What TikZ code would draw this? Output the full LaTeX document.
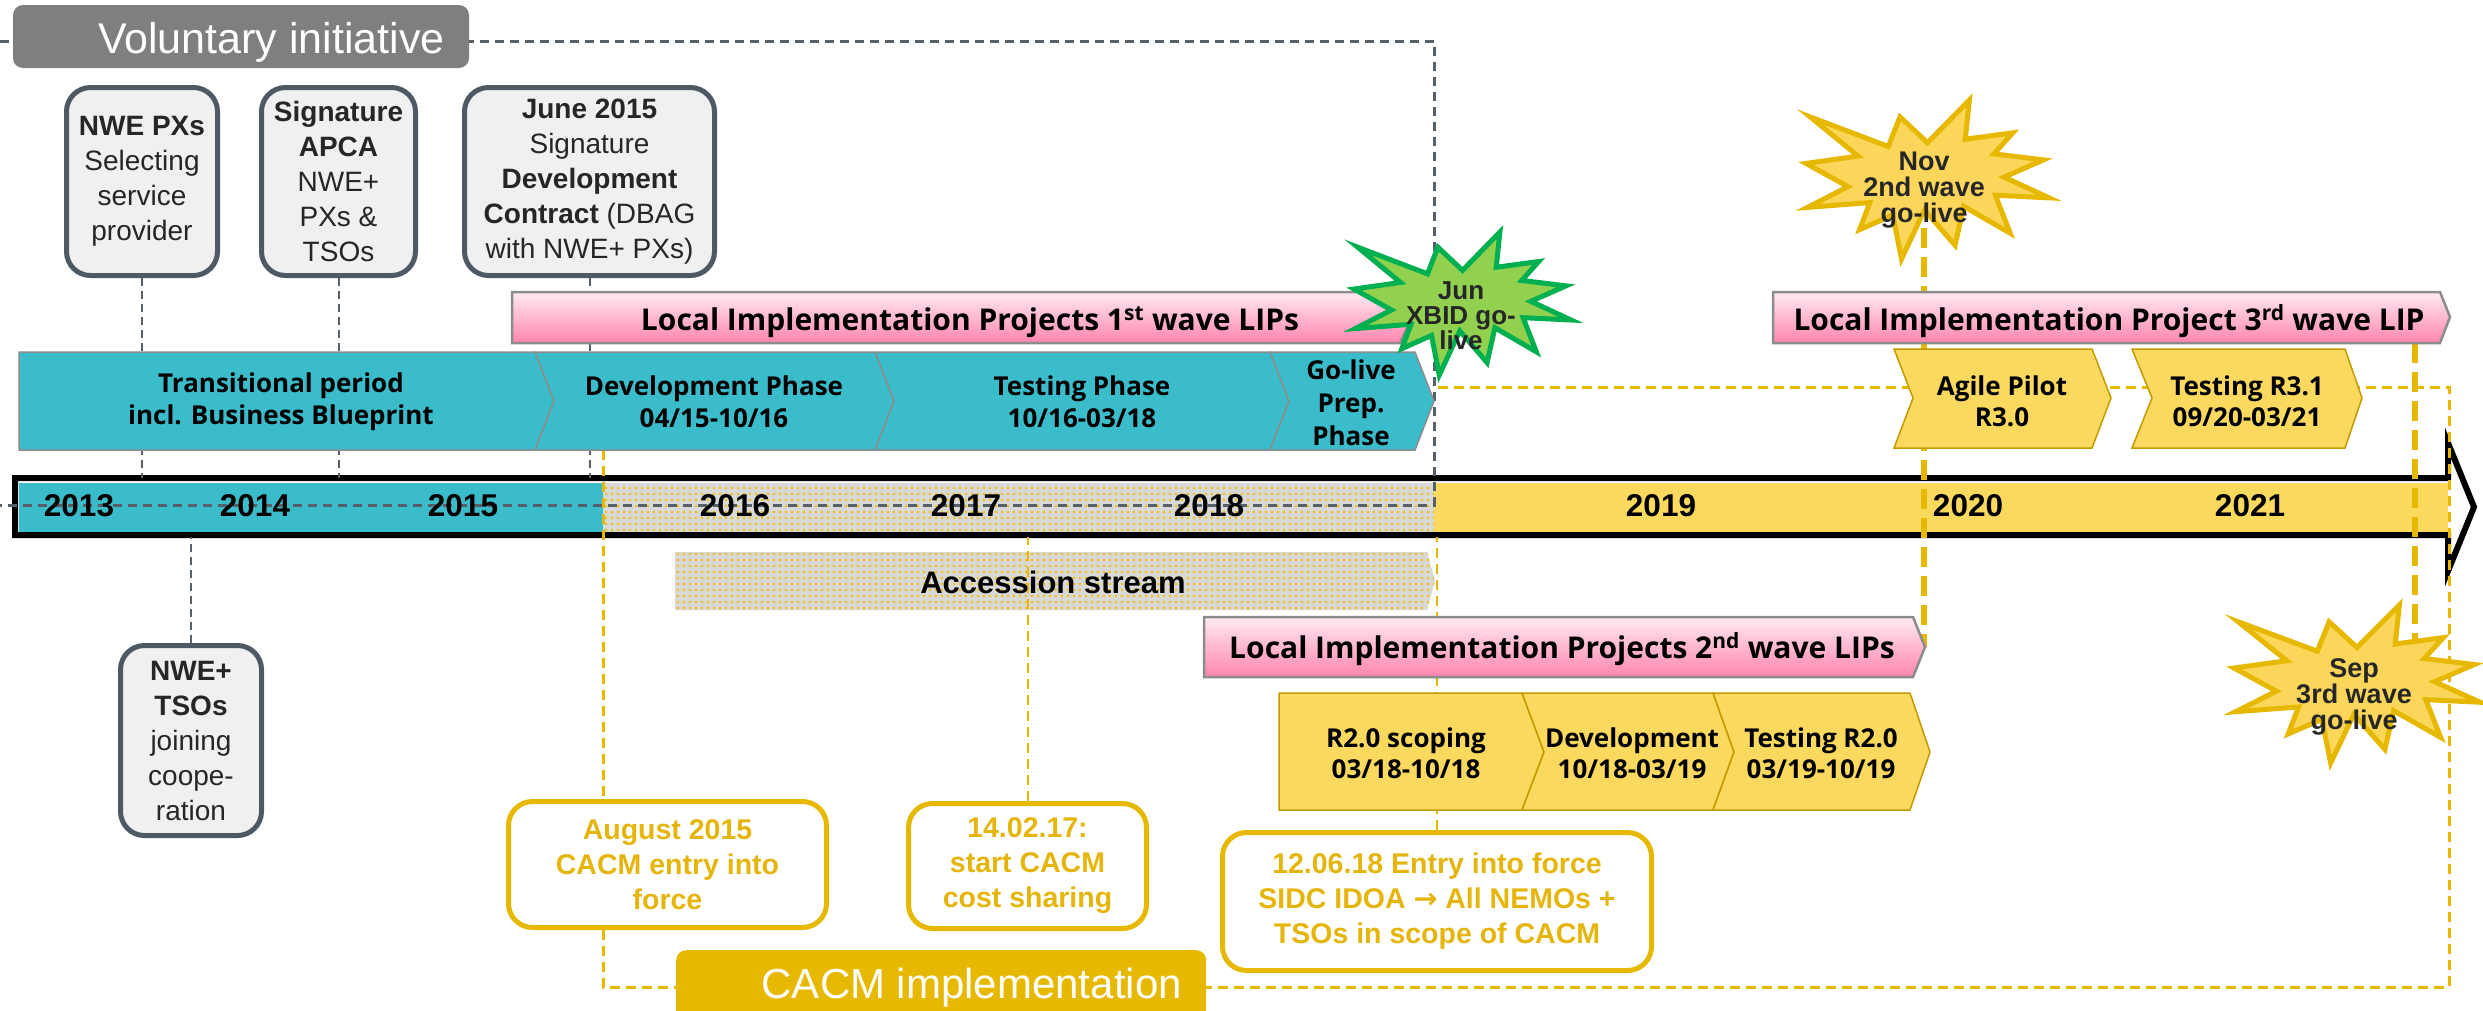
\documentclass[tikz,border=0pt]{standalone}
\usepackage{fontspec}
\setmainfont{Liberation Sans}
\newfontfamily\seg{Open Sans}
\newfontfamily\arrowfont{DejaVu Sans}
\usetikzlibrary{patterns.meta}
\pgfdeclarelayer{tl}
\pgfdeclarelayer{lines}
\pgfdeclarelayer{front}
\pgfsetlayers{tl,lines,main,front}
\definecolor{tealc}{HTML}{3BBCCA}
\definecolor{chevedge}{HTML}{8C8C8C}
\definecolor{yelc}{HTML}{FBD85E}
\definecolor{yeledge}{HTML}{C49A00}
\definecolor{gold}{HTML}{E6B800}
\definecolor{goldtext}{HTML}{E5B50C}
\definecolor{dotgray}{HTML}{D9D9D9}
\definecolor{dotyel}{HTML}{F0C000}
\definecolor{slate}{HTML}{56606B}
\definecolor{boxedge}{HTML}{4E5965}
\definecolor{boxfill}{HTML}{F0F0F0}
\definecolor{volgray}{HTML}{7F7F7F}
\definecolor{textdark}{HTML}{262626}
\definecolor{pinktop}{HTML}{FFEAF3}
\definecolor{pinkbot}{HTML}{FF84AF}
\definecolor{starfill}{HTML}{FBD65A}
\definecolor{greenfill}{HTML}{92D050}
\definecolor{greenedge}{HTML}{00B050}
\newcommand\drawexplosion[1]{\path[#1] (108,58) -- (145.22,0) -- (141.55,53.25) -- (183.80,44.57) -- (167.02,73.15) -- (210.97,81.37) -- (176.07,104.75) -- (216,132.90) -- (168.37,129.42) -- (181.45,180.95) -- (140.20,144.57) -- (132.47,197.37) -- (105.32,149.35) -- (84.85,216) -- (77.15,156.27) -- (47.62,176.17) -- (56.67,139.37) -- (1.35,145.87) -- (37.22,117.75) -- (0,86.15) -- (46.27,76.17) -- (3.70,22.95) -- (73.12,63.20) -- (83.52,22.95) -- cycle;}
\tikzset{
  graybox/.style={draw=boxedge, line width=5pt, fill=boxfill, rounded corners=24pt, align=center, text=textdark, font=\fontsize{28}{35}\selectfont, inner sep=0pt},
  goldbox/.style={draw=gold, line width=5pt, fill=white, rounded corners=24pt, align=center, text=goldtext, font=\fontsize{28.5}{35}\selectfont\bfseries, inner sep=0pt},
  tealchev/.style={fill=tealc, draw=chevedge, line width=1.5pt},
  yelchev/.style={fill=yelc, draw=yeledge, line width=1.5pt},
  pinkbar/.style={top color=pinktop, bottom color=pinkbot, draw=chevedge, line width=2.5pt},
  dotted fill/.style={fill=dotgray, postaction={pattern={Dots[distance=6pt,radius=1.3pt]}, pattern color=dotyel}},
  chevtext/.style={font=\seg\bfseries\fontsize{26}{32}\selectfont, align=center, text=black, inner sep=0pt},
  pinktext/.style={font=\seg\bfseries\fontsize{30}{32}\selectfont, text=black, inner sep=0pt, anchor=base},
  yeartext/.style={font=\fontsize{31.5}{36}\selectfont\bfseries, text=black, inner sep=0pt, anchor=base},
  startext/.style={font=\fontsize{27}{26}\selectfont\bfseries, text=textdark, align=center, inner sep=0pt},
  graydash/.style={draw=slate, line width=3pt, dash pattern=on 9pt off 6pt},
  grayconn/.style={draw=slate, line width=2pt, dash pattern=on 8pt off 5pt},
  golddash/.style={draw=gold, line width=3pt, dash pattern=on 10pt off 6pt},
  goldconn/.style={draw=gold, line width=2pt, dash pattern=on 10pt off 6pt},
  thickgold/.style={draw=gold, line width=5.5pt, dash pattern=on 20pt off 9pt},
}
\begin{document}
\begin{tikzpicture}[x=1pt,y=-1pt]
\useasboundingbox (0,0) rectangle (2483,1010);
\coordinate (tltop) at (0,478);
\coordinate (tlbot) at (0,537);
\coordinate (p2tip) at (1925,647);
\coordinate (p3b) at (2415,343);
\coordinate (sepc) at (2415,650);

% ---------- timeline ----------
\begin{pgfonlayer}{tl}
\fill[tealc] (19,483) rectangle (603,532);
\path[dotted fill] (603,483) rectangle (1434,532);
\fill[yelc] (1434,483) rectangle (2448,532);
\draw[line width=6pt, line join=miter] (15,478) -- (2448,478) -- (2448,443) -- (2474,507) -- (2448,571) -- (2448,535) -- (15,535) -- cycle;
\path[dotted fill] (675,552) -- (1427,552) -- (1435,581) -- (1427,610) -- (675,610) -- cycle;
\end{pgfonlayer}
\node[font=\fontsize{31}{34}\selectfont\bfseries, anchor=base, inner sep=0pt] (acc) at (1053,593) {Accession stream};

% years
\node[yeartext] (y13) at (79,516) {2013};
\node[yeartext] (y14) at (255,516) {2014};
\node[yeartext] (y15) at (463,516) {2015};
\node[yeartext] (y16) at (735,516) {2016};
\node[yeartext] (y17) at (966,516) {2017};
\node[yeartext] (y18) at (1209,516) {2018};
\node[yeartext] (y19) at (1661,516) {2019};
\node[yeartext] (y20) at (1968,516) {2020};
\node[yeartext] (y21) at (2250,516) {2021};

% ---------- label boxes ----------
\node[fill=volgray, rounded corners=10pt, minimum width=456, minimum height=63, inner sep=0pt] (vol) at (241,36.5) {};
\node[text=white, font=\fontsize{43}{46}\selectfont, anchor=base east, inner sep=0pt] (volt) at (445,53) {Voluntary initiative};
\node[fill=gold, rounded corners=10pt, minimum width=530, minimum height=90, inner sep=0pt, anchor=north west] (cacm) at (676,950) {};
\node[text=white, font=\fontsize{42}{46}\selectfont, anchor=base east, inner sep=0pt] (cacmt) at (1182,998) {CACM implementation};

% ---------- gray boxes ----------
\node[graybox, minimum width=151, minimum height=188] (nwepx) at (142,181.5) {\textbf{NWE PXs}\\Selecting\\service\\provider};
\node[graybox, minimum width=154, minimum height=188] (apca) at (338.5,181.5) {\textbf{Signature}\\\textbf{APCA}\\NWE+\\PXs \&\\TSOs};
\node[graybox, minimum width=250, minimum height=188] (june) at (589.5,181.5) {\textbf{June 2015}\\Signature\\\textbf{Development}\\\textbf{Contract} (DBAG\\with NWE+ PXs)};
\node[graybox, minimum width=141, minimum height=190] (nwetso) at (191,740.5) {\textbf{NWE+}\\\textbf{TSOs}\\joining\\coope-\\ration};

% ---------- gold boxes ----------
\node[goldbox, minimum width=318, minimum height=126] (aug) at (667.5,864.5) {August 2015\\CACM entry into\\force};
\node[goldbox, minimum width=238, minimum height=125] (feb) at (1027.5,866) {14.02.17:\\start CACM\\cost sharing};
\node[goldbox, minimum width=429, minimum height=138] (jun18) at (1437,901.5) {12.06.18 Entry into force\\SIDC IDOA {\arrowfont\bfseries →} All NEMOs +\\TSOs in scope of CACM};

% ---------- teal chevrons ----------
\path[tealchev] (19,352) -- (535,352) -- (554,401) -- (535,450) -- (19,450) -- cycle;
\path[tealchev] (535,352) -- (875,352) -- (894,401) -- (875,450) -- (535,450) -- (554,401) -- cycle;
\path[tealchev] (875,352) -- (1270,352) -- (1289,401) -- (1270,450) -- (875,450) -- (894,401) -- cycle;
\path[tealchev] (1270,352) -- (1415,352) -- (1434,401) -- (1415,450) -- (1270,450) -- (1289,401) -- cycle;
\node[chevtext] (t1) at (281,402) {Transitional period\\incl. Business Blueprint};
\node[chevtext] (t2) at (714,402) {Development Phase\\04/15-10/16};
\node[chevtext] (t3) at (1082,402) {Testing Phase\\10/16-03/18};
\node[chevtext, font=\seg\bfseries\fontsize{26}{33}\selectfont] (t4) at (1351,403) {Go-live\\Prep.\\Phase};

% ---------- pink bars ----------
\path[pinkbar] (512,292) -- (1400,292) -- (1412,317) -- (1400,343) -- (512,343) -- cycle;
\path[pinkbar] (1204,617) -- (1913,617) -- (1925,647) -- (1913,677) -- (1204,677) -- cycle;
\path[pinkbar] (1773,292) -- (2440,292) -- (2450,317) -- (2440,343) -- (1773,343) -- cycle;
\node[pinktext] (p1t) at (970,330) {Local Implementation Projects 1\textsuperscript{st} wave LIPs};
\node[pinktext] (p2t) at (1562,658) {Local Implementation Projects 2\textsuperscript{nd} wave LIPs};
\node[pinktext] (p3t) at (2109,330) {Local Implementation Project 3\textsuperscript{rd} wave LIP};

% ---------- yellow chevrons ----------
\path[yelchev] (1894,349) -- (2092,349) -- (2111,398) -- (2092,448) -- (1894,448) -- (1913,398) -- cycle;
\path[yelchev] (2132,349) -- (2345,349) -- (2362,398) -- (2345,448) -- (2132,448) -- (2152,398) -- cycle;
\path[yelchev] (1279,693) -- (1522,693) -- (1544,752) -- (1522,810) -- (1279,810) -- cycle;
\path[yelchev] (1522,693) -- (1713,693) -- (1734,752) -- (1713,810) -- (1522,810) -- (1544,752) -- cycle;
\path[yelchev] (1713,693) -- (1910,693) -- (1930,752) -- (1910,810) -- (1713,810) -- (1734,752) -- cycle;
\node[chevtext, font=\seg\bfseries\fontsize{26}{31}\selectfont] (a30) at (2002,401) {Agile Pilot\\R3.0};
\node[chevtext, font=\seg\bfseries\fontsize{26}{31}\selectfont] (t31) at (2247,401) {Testing R3.1\\09/20-03/21};
\node[chevtext, font=\seg\bfseries\fontsize{26}{31}\selectfont] (r20) at (1406,753) {R2.0 scoping\\03/18-10/18};
\node[chevtext, font=\seg\bfseries\fontsize{26}{31}\selectfont] (d20) at (1632,753) {Development\\10/18-03/19};
\node[chevtext, font=\seg\bfseries\fontsize{26}{31}\selectfont] (t20) at (1821,753) {Testing R2.0\\03/19-10/19};

% ---------- stars ----------
\begin{pgfonlayer}{front}
\drawexplosion{fill=greenfill, draw=greenedge, line width=5pt, shift={(1354,232)}, xscale=217/216, yscale=143/216}
\drawexplosion{fill=starfill, draw=gold, line width=5pt, shift={(1806,100)}, xscale=243/216, yscale=159/216}
\drawexplosion{fill=starfill, draw=gold, line width=5pt, shift={(2234,605)}, xscale=246/216, yscale=158/216}
\node[startext, font=\fontsize{26}{25}\selectfont\bfseries] (jun) at (1461,316) {Jun\\XBID go-\\live};
\node[startext] (nov) at (1924,190) {Nov\\2nd wave\\go-live};
\node[startext] (sep) at (2354,697) {Sep\\3rd wave\\go-live};
\end{pgfonlayer}

% ---------- lines ----------
\begin{pgfonlayer}{lines}
\draw[graydash] (0,41) -- (1434,41) -- (1434,505) -- (0,505);
\draw[golddash] (603,450) -- (603,987) -- (2449,987) -- (2449,387) -- (1434,387);
\draw[grayconn] (nwepx.south) -- (nwepx.south |- tltop);
\draw[grayconn] (apca.south) -- (apca.south |- tltop);
\draw[grayconn] (june.south) -- (june.south |- tltop);
\draw[grayconn] (nwetso.north) -- (nwetso.north |- tlbot);
\draw[goldconn] (feb.north) -- (feb.north |- tlbot);
\draw[goldconn] (jun18.north) -- (jun18.north |- tlbot);
\draw[thickgold] (nov.south) -- (nov.south |- p2tip);
\draw[thickgold] (p3b) -- (sepc);
\end{pgfonlayer}
\end{tikzpicture}
\end{document}
